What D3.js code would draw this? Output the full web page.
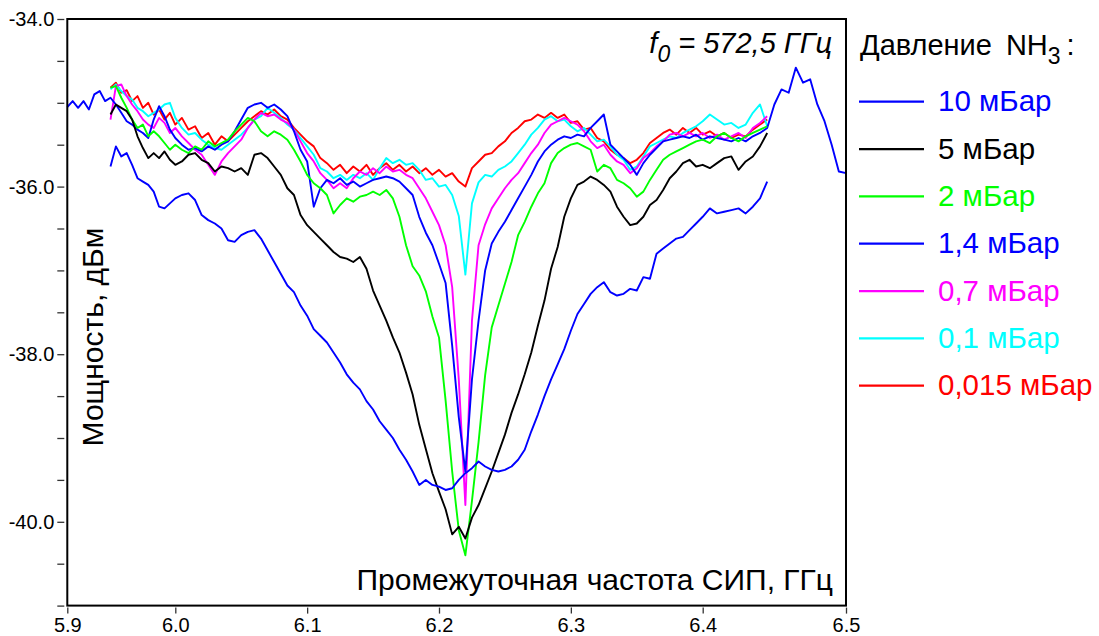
<!DOCTYPE html>
<html>
<head>
<meta charset="utf-8">
<script src="https://cdn.jsdelivr.net/npm/d3@7"></script>
<style>
  body{margin:0;background:#fff;}
  svg{display:block;font-family:Arial,'Liberation Sans',sans-serif;}
</style>
</head>
<body>
<div class="chart-container"></div>
<script>
// частотная сетка, ГГц (общая для всех кривых)
const freqGHz = [
  5.94, 5.945, 5.95, 5.955, 5.96, 5.965, 5.97, 5.975, 5.98, 5.985,
  5.99, 5.995, 6.0, 6.005, 6.01, 6.015, 6.02, 6.025, 6.03, 6.035,
  6.04, 6.045, 6.05, 6.055, 6.06, 6.065, 6.07, 6.075, 6.08, 6.085,
  6.09, 6.095, 6.1, 6.105, 6.11, 6.115, 6.12, 6.125, 6.13, 6.135,
  6.14, 6.145, 6.15, 6.155, 6.16, 6.165, 6.17, 6.175, 6.18, 6.185,
  6.19, 6.195, 6.2, 6.205, 6.21, 6.215, 6.22, 6.225, 6.23, 6.235,
  6.24, 6.245, 6.25, 6.255, 6.26, 6.265, 6.27, 6.275, 6.28, 6.285,
  6.29, 6.295, 6.3, 6.305, 6.31, 6.315, 6.32, 6.325, 6.33, 6.335,
  6.34, 6.345, 6.35, 6.355, 6.36, 6.365, 6.37, 6.375, 6.38, 6.385,
  6.39, 6.395, 6.4, 6.405, 6.41, 6.415, 6.42, 6.425, 6.43, 6.435,
  6.44, 6.445
];
// кривая 1,4 мБар записана шире по частоте
const freqLeftGHz = [5.9, 5.905, 5.91, 5.915, 5.92, 5.925, 5.93, 5.935];
const freqRightGHz = [6.45, 6.455, 6.46, 6.465, 6.47, 6.475, 6.48, 6.485, 6.49, 6.495, 6.5];

// мощность, дБм
const p10 = [
  -35.76, -35.52, -35.64, -35.6, -35.74, -35.9, -35.94, -35.98, -36.06, -36.24,
  -36.26, -36.2, -36.14, -36.1, -36.08, -36.16, -36.34, -36.4, -36.44, -36.5,
  -36.64, -36.66, -36.58, -36.54, -36.52, -36.62, -36.76, -36.9, -37.04, -37.18,
  -37.26, -37.42, -37.54, -37.7, -37.78, -37.86, -37.98, -38.1, -38.24, -38.34,
  -38.42, -38.56, -38.66, -38.8, -38.9, -39.0, -39.14, -39.26, -39.4, -39.56,
  -39.5, -39.56, -39.58, -39.62, -39.6, -39.5, -39.42, -39.36, -39.28, -39.34,
  -39.38, -39.4, -39.38, -39.34, -39.26, -39.14, -38.92, -38.72, -38.5, -38.3,
  -38.12, -37.94, -37.72, -37.52, -37.4, -37.28, -37.2, -37.14, -37.26, -37.3,
  -37.28, -37.22, -37.24, -37.08, -37.1, -36.8, -36.74, -36.68, -36.62, -36.6,
  -36.52, -36.44, -36.36, -36.26, -36.32, -36.3, -36.28, -36.26, -36.32, -36.24,
  -36.14, -35.94
];
const p5 = [
  -35.14, -35.02, -35.06, -35.1, -35.2, -35.4, -35.54, -35.66, -35.6, -35.66,
  -35.58, -35.68, -35.74, -35.7, -35.62, -35.6, -35.68, -35.72, -35.82, -35.76,
  -35.78, -35.82, -35.78, -35.86, -35.62, -35.6, -35.66, -35.76, -35.86, -36.02,
  -36.1, -36.34, -36.46, -36.54, -36.62, -36.7, -36.78, -36.84, -36.86, -36.9,
  -36.84, -36.98, -37.24, -37.42, -37.6, -37.8, -37.98, -38.22, -38.48, -38.84,
  -39.13, -39.42, -39.64, -39.85, -40.15, -40.06, -40.2, -39.95, -39.8, -39.6,
  -39.4, -39.18, -38.96, -38.7, -38.48, -38.24, -37.98, -37.66, -37.36, -36.98,
  -36.72, -36.36, -36.14, -35.98, -35.94, -35.88, -35.92, -35.98, -36.06, -36.24,
  -36.36, -36.46, -36.44, -36.36, -36.22, -36.16, -36.04, -35.9, -35.82, -35.72,
  -35.68, -35.76, -35.74, -35.78, -35.72, -35.66, -35.64, -35.8, -35.7, -35.64,
  -35.52, -35.36
];
const p2 = [
  -34.82, -34.8, -34.94, -35.06, -35.2, -35.3, -35.26, -35.4, -35.34, -35.4,
  -35.48, -35.56, -35.5, -35.56, -35.6, -35.52, -35.56, -35.46, -35.52, -35.48,
  -35.44, -35.34, -35.26, -35.18, -35.22, -35.34, -35.4, -35.34, -35.38, -35.44,
  -35.56, -35.7, -35.86, -35.96, -36.02, -36.1, -36.32, -36.22, -36.14, -36.18,
  -36.12, -36.1, -36.06, -36.1, -36.04, -36.14, -36.36, -36.7, -36.95, -37.06,
  -37.25, -37.55, -37.8, -38.55, -39.4, -40.1, -40.4, -39.75, -39.05, -38.25,
  -37.68, -37.42, -37.16, -36.9, -36.58, -36.42, -36.24, -36.08, -35.96, -35.72,
  -35.6, -35.54, -35.5, -35.48, -35.52, -35.56, -35.82, -35.74, -35.78, -35.92,
  -35.96, -36.02, -36.12, -36.06, -35.92, -35.8, -35.68, -35.62, -35.58, -35.54,
  -35.5, -35.46, -35.44, -35.48, -35.4, -35.36, -35.42, -35.46, -35.4, -35.36,
  -35.32, -35.28
];
const p14Left = [-35.05, -34.98, -35.06, -34.98, -35.08, -34.9, -34.86, -34.98];
const p14 = [
  -34.94, -35.02, -35.12, -35.22, -35.26, -35.32, -35.36, -35.42, -35.2, -35.04,
  -35.16, -35.32, -35.42, -35.5, -35.56, -35.54, -35.58, -35.52, -35.56, -35.5,
  -35.46, -35.34, -35.2, -35.06, -35.02, -35.0, -35.06, -35.02, -35.08, -35.16,
  -35.34, -35.56, -35.7, -36.24, -36.02, -35.92, -35.96, -35.9, -35.98, -35.94,
  -36.0, -35.96, -35.92, -35.9, -35.88, -35.9, -35.94, -36.02, -36.1, -36.36,
  -36.55, -36.7, -36.92, -37.15, -37.9, -38.75, -39.4, -38.3, -37.6, -37.0,
  -36.68, -36.54, -36.42, -36.28, -36.14, -36.0, -35.86, -35.7, -35.58, -35.5,
  -35.44, -35.4, -35.42, -35.38, -35.4, -35.3, -35.22, -35.14, -35.5, -35.58,
  -35.66, -35.74, -35.86, -35.72, -35.62, -35.54, -35.46, -35.44, -35.42, -35.4,
  -35.42, -35.38, -35.44, -35.4, -35.42, -35.44, -35.46, -35.42, -35.46, -35.4,
  -35.36, -35.3
];
const p14Right = [-35.02, -34.84, -34.88, -34.58, -34.76, -34.72, -35.02, -35.22, -35.5, -35.82, -35.84];
const p07 = [
  -35.2, -34.8, -34.78, -34.92, -35.02, -35.1, -35.2, -35.26, -35.3, -35.18,
  -35.24, -35.36, -35.3, -35.4, -35.48, -35.56, -35.62, -35.74, -35.86, -35.7,
  -35.6, -35.52, -35.44, -35.3, -35.2, -35.12, -35.16, -35.14, -35.2, -35.24,
  -35.32, -35.46, -35.6, -35.7, -35.84, -35.92, -36.02, -35.96, -36.02, -35.9,
  -35.82, -35.86, -35.78, -35.84, -35.76, -35.82, -35.8, -35.86, -35.9, -36.02,
  -36.14, -36.3, -36.46, -36.7, -37.2, -38.3, -39.8, -37.6, -36.7, -36.45,
  -36.26, -36.14, -36.02, -35.92, -35.84, -35.72, -35.6, -35.5, -35.36, -35.26,
  -35.22, -35.18, -35.22, -35.26, -35.34, -35.46, -35.54, -35.5, -35.62, -35.7,
  -35.74, -35.84, -35.78, -35.66, -35.6, -35.52, -35.46, -35.38, -35.36, -35.4,
  -35.36, -35.4, -35.36, -35.42, -35.38, -35.44, -35.4, -35.36, -35.42, -35.3,
  -35.24, -35.16
];
const p01 = [
  -34.84, -34.78, -34.86, -34.92, -34.96, -35.06, -35.1, -35.16, -35.12, -35.08,
  -35.02, -35.0, -35.18, -35.3, -35.38, -35.36, -35.44, -35.5, -35.54, -35.56,
  -35.5, -35.44, -35.38, -35.3, -35.2, -35.16, -35.06, -35.12, -35.18, -35.26,
  -35.32, -35.42, -35.52, -35.62, -35.78, -35.82, -35.9, -35.86, -35.92, -35.86,
  -35.9, -35.84, -35.92, -35.78, -35.66, -35.72, -35.68, -35.74, -35.72, -35.8,
  -35.92, -35.9, -36.0, -35.98, -36.1, -36.35, -37.05, -36.2, -35.95, -35.86,
  -35.88, -35.8, -35.76, -35.7, -35.6, -35.5, -35.38, -35.3, -35.2, -35.16,
  -35.22, -35.2, -35.28, -35.34, -35.3, -35.38, -35.46, -35.44, -35.52, -35.62,
  -35.68, -35.8, -35.76, -35.64, -35.52, -35.48, -35.44, -35.4, -35.42, -35.36,
  -35.32, -35.28, -35.22, -35.14, -35.2, -35.26, -35.24, -35.3, -35.26, -35.12,
  -35.02, -35.28
];
const p0015 = [
  -34.82, -34.76, -34.88, -34.85, -34.98, -34.92, -35.06, -35.0, -35.14, -35.08,
  -35.2, -35.12, -35.26, -35.18, -35.32, -35.28, -35.42, -35.36, -35.5, -35.4,
  -35.46, -35.38, -35.3, -35.22, -35.16, -35.1, -35.14, -35.08, -35.16, -35.2,
  -35.3, -35.38, -35.46, -35.52, -35.66, -35.72, -35.8, -35.74, -35.84, -35.76,
  -35.82, -35.74, -35.86, -35.78, -35.72, -35.8, -35.74, -35.82, -35.76, -35.84,
  -35.78, -35.86, -35.8, -35.88, -35.84, -35.94, -36.0, -35.78, -35.7, -35.62,
  -35.6, -35.52, -35.46, -35.36, -35.3, -35.22, -35.2, -35.14, -35.18, -35.12,
  -35.18, -35.14, -35.24, -35.22, -35.32, -35.3, -35.42, -35.46, -35.56, -35.62,
  -35.66, -35.72, -35.68, -35.6, -35.48, -35.42, -35.36, -35.32, -35.38, -35.3,
  -35.36, -35.3, -35.38, -35.34, -35.4, -35.36, -35.42, -35.38, -35.4, -35.32,
  -35.26, -35.2
];

// подписи легенды и цвета
const pressureLabels = ['10 мБар', '5 мБар', '2 мБар', '1,4 мБар', '0,7 мБар', '0,1 мБар', '0,015 мБар'];
const pressureColors = ['#0000ff', '#000000', '#00ff00', '#0000ff', '#ff00ff', '#00ffff', '#ff0000'];

// деления осей
const xTicks = [5.9, 6.0, 6.1, 6.2, 6.3, 6.4, 6.5];
const yTicks = [-34, -34.5, -35, -35.5, -36, -36.5, -37, -37.5, -38, -38.5, -39, -39.5, -40, -40.5, -41];
const yTickLabels = [-34, -36, -38, -40];

function prepareSeries(){
    const values = [p10, p5, p2, p14Left.concat(p14, p14Right), p07, p01, p0015];
    return pressureLabels.map((label, i) => ({
        name: label,
        color: pressureColors[i],
        freq: i === 3 ? freqLeftGHz.concat(freqGHz, freqRightGHz) : freqGHz,
        values: values[i]
    }));
}

function setupCanvas(series){
    const svg_width = 1099;
    const svg_height = 636;
    const frame = {left: 67.3, top: 19, right: 846, bottom: 605.6};

    const svg = d3.select('.chart-container').append('svg')
        .attr('width', svg_width).attr('height', svg_height);
    svg.append('rect').attr('width', svg_width).attr('height', svg_height).style('fill', '#fff');

    // шкала X на исходном рисунке неравномерна по краям
    const xScale = d3.scaleLinear().domain([5.9, 6.0, 6.4, 6.5])
        .range([frame.left, 175.3, 702.7, frame.right]);
    const yScale = d3.scaleLinear().domain([-41, -34]).range([frame.bottom, frame.top]);

    const lineGen = d3.line().x(d => xScale(d[0])).y(d => yScale(d[1]));

    // кривые: снизу вверх по легенде
    const plot = svg.append('g').attr('class', 'lines');
    plot.selectAll('.line-series').data(series.slice().reverse()).enter()
        .append('path')
        .attr('class', 'line-series')
        .attr('d', d => lineGen(d.freq.map((f, j) => [f, d.values[j]])))
        .style('fill', 'none')
        .style('stroke', d => d.color)
        .style('stroke-width', 1.9)
        .style('stroke-linejoin', 'round');

    // рамка
    svg.append('rect')
        .attr('x', frame.left).attr('y', frame.top)
        .attr('width', frame.right - frame.left).attr('height', frame.bottom - frame.top)
        .style('fill', 'none').style('stroke', '#000').style('stroke-width', 2);

    // оси
    const yAxis = d3.axisLeft(yScale).tickValues(yTicks).tickSize(7).tickPadding(3)
        .tickFormat(d => yTickLabels.includes(d) ? d.toFixed(1) : '');
    const yAxisDraw = svg.append('g').attr('class', 'y axis')
        .attr('transform', `translate(${frame.left - 3},0)`)
        .call(yAxis);
    const xAxis = d3.axisBottom(xScale).tickValues(xTicks).tickSize(6).tickPadding(4)
        .tickFormat(d => d.toFixed(1));
    const xAxisDraw = svg.append('g').attr('class', 'x axis')
        .attr('transform', `translate(0,${frame.bottom + 2})`)
        .call(xAxis);
    [yAxisDraw, xAxisDraw].forEach(a => {
        a.select('.domain').remove();
        a.selectAll('line').style('stroke', '#333').style('stroke-width', 1.3);
        a.selectAll('text').style('font-size', '20px').style('fill', '#000')
            .style('font-family', 'Arial, Liberation Sans, sans-serif');
    });

    // подписи осей
    svg.append('text')
        .attr('x', 833).attr('y', 590)
        .style('text-anchor', 'end').style('font-size', '30px')
        .text('Промежуточная частота СИП, ГГц');
    svg.append('text')
        .attr('transform', 'translate(103,337) rotate(-90)')
        .style('text-anchor', 'middle').style('font-size', '30px')
        .text('Мощность, дБм');

    // f0
    const f0 = svg.append('text')
        .attr('x', 832).attr('y', 53)
        .style('text-anchor', 'end').style('font-size', '29px').style('font-style', 'italic');
    f0.append('tspan').text('f');
    f0.append('tspan').text('0').attr('dy', 9).style('font-size', '23px');
    f0.append('tspan').text(' = 572,5 ГГц').attr('dy', -9);

    // легенда
    const title = svg.append('text').attr('x', 860).attr('y', 55).style('font-size', '29px');
    title.append('tspan').text('Давление');
    title.append('tspan').text('NH').attr('dx', 14);
    title.append('tspan').text('3').attr('dy', 9).style('font-size', '23px');
    title.append('tspan').text(':').attr('dx', 6).attr('dy', -9);

    const legendY = d3.scalePoint().domain(pressureLabels).range([101.7, 385.7]);
    const legend = svg.append('g').attr('class', 'legend')
        .selectAll('.legend-item').data(series).enter()
        .append('g').attr('class', 'legend-item')
        .attr('transform', d => `translate(0,${legendY(d.name)})`);
    legend.append('line')
        .attr('x1', 859).attr('x2', 924).attr('y1', 0).attr('y2', 0)
        .style('stroke', d => d.color).style('stroke-width', 2.2);
    legend.append('text')
        .attr('x', 938).attr('y', 9.5)
        .style('font-size', '29.5px')
        .style('fill', d => d.color)
        .text(d => d.name);
}

function ready(){
    const series = prepareSeries();
    setupCanvas(series);
}
ready();
</script>
</body>
</html>
